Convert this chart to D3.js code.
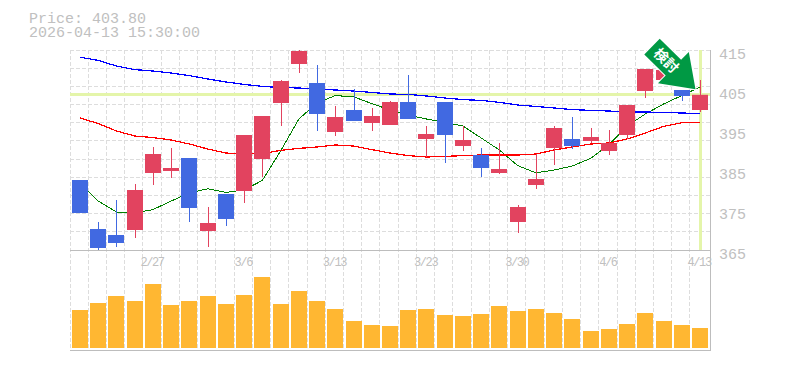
<!DOCTYPE html>
<html>
<head>
<meta charset="utf-8">
<script src="https://cdn.jsdelivr.net/npm/d3@7"></script>
<style>
html, body { margin: 0; padding: 0; background: #fff; }
text { font-family: "Liberation Mono", monospace; fill: #c0c0c0; }
.axis path, .axis line { display: none; }
</style>
</head>
<body>
<div id="chart"></div>
<script>
// price label
var last_price = 403.80;
var last_time = "2026-04-13 15:30:00";
var arrow_label = "検討";

var dates = ["2/20","2/24","2/25","2/26","2/27","3/2","3/3","3/4","3/5","3/6","3/9","3/10","3/11","3/12","3/13",
             "3/16","3/17","3/18","3/19","3/23","3/24","3/25","3/26","3/27","3/30","3/31","4/1","4/2","4/3","4/6",
             "4/7","4/8","4/9","4/10","4/13"];
var date_ticks = ["2/27","3/6","3/13","3/23","3/30","4/6","4/13"];
var price_ticks = [365,375,385,395,405,415];

var opens = [382.5,370.25,368.75,370,384.25,384.75,388,369.75,379,379.75,387.75,401.75,411.5,406.75,394.5,
             400,396.75,396.25,402,392.75,402,391,388.75,384.25,372,381.25,390.5,392.75,392.25,389.75,
             393.75,404.75,407.5,405,400];
var highs = [382.5,372,377.5,381.5,390.75,390.5,388,375.75,379,393.75,398.5,407.5,415,411.25,401,
             405.25,400.5,402.25,408.75,396,402,396,390.5,391.75,376.25,389,396,398.25,395.5,395,
             401.25,410.25,410,405,407.5];
var lows = [374.25,365,365.75,368,381.25,383,372,365.75,371,376.75,383.25,396,409.25,394.75,393.5,
            397.25,394.75,396.25,397.75,388.25,386.75,389.75,383.25,384,369.25,380.25,386.25,390.25,391.75,388.75,
            392.75,403,407.5,402.25,399.5];
var closes = [374.25,365.5,366.75,380,389,385.5,375.5,371.75,372.75,393.75,398.5,407.25,414.75,399,398.25,
              397.25,398.5,402,397.75,394,393.75,392.5,385.5,385.25,375.75,382.75,395.5,391,393.25,391.75,
              401.25,410.25,410,403.5,403.8];

var ma_short = [381.75,377.25,374.5,374.25,375.1,377.25,379.25,380.3,379.4,380,382.4,389.75,397.75,401.75,403.6,
                403.3,401.6,400,398.75,397.75,396.9,396,393,390,386.1,384.3,385,386,387.9,391.25,
                396,399,401.5,403.6,405.75];
var ma_mid = [398,396.6,394.75,393.5,393.1,392.5,391.5,390.25,389.25,389,389.1,389.9,390.4,390.75,391.25,
              391,390.1,389.25,388.6,388.25,388.4,388.6,388.75,388.75,388.75,389,390,390.75,391.5,391.75,
              392.75,394.25,395.9,396.8,396.9];
var ma_long = [413.2,412.4,411,410.1,409.75,409.25,408.6,407.75,407,406.4,405.9,405.6,405.5,405.25,405,
               404.75,404.4,404,403.9,403.5,403,402.6,402.4,401.9,401.25,400.9,400.5,400.1,399.9,399.75,
               399.5,399.5,399.4,399.25,399.1];

var volumes = [38,45,52,47,64,43,47,52,44,53,71,44,57,47,39,27,23,22,
               38,39,33,32,34,42,37,39,35,29,17,19,24,35,27,23,20];

var colors = new Map([
    ["up", "#e2435f"],
    ["down", "#4169e1"],
    ["short", "#008000"],
    ["mid", "#ff0000"],
    ["long", "#0000ff"],
    ["volume", "#ffb732"],
    ["band", "#e4f5aa"],
    ["grid", "#dddddd"],
    ["frame", "#bdbdbd"],
    ["arrow", "#009944"]
]);

var total_w = 785;
var total_h = 370;
var candle_w = 16;
var svg, xscale, yscale, vscale;

function x_left(i) {
    return Math.round(xscale(dates[i]) + 2);
}

function x_mid(i) {
    return xscale(dates[i]) + 10;
}

function gen_grid() {
    var grid = svg.append("g")
                  .attr("stroke", colors.get("grid"))
                  .attr("stroke-dasharray", "4,2");

    // one vertical per candle
    grid.selectAll(".vgrid")
        .data(dates)
        .enter()
        .append("line")
        .attr("class", "vgrid")
        .attr("x1", function(d) { return Math.floor(xscale(d)) + 0.5; })
        .attr("x2", function(d) { return Math.floor(xscale(d)) + 0.5; })
        .attr("y1", 50)
        .attr("y2", 350);

    // price panel is split in 11 rows, not on the labels
    grid.selectAll(".hgrid")
        .data(d3.range(11))
        .enter()
        .append("line")
        .attr("class", "hgrid")
        .attr("x1", 70)
        .attr("x2", 710)
        .attr("y1", function(d) { return Math.floor(50 + d * 200 / 11) + 0.5; })
        .attr("y2", function(d) { return Math.floor(50 + d * 200 / 11) + 0.5; });

    var frame = svg.append("g").attr("stroke", colors.get("frame"));
    frame.append("line").attr("x1", 70).attr("x2", 711).attr("y1", 250.5).attr("y2", 250.5);
    frame.append("line").attr("x1", 70).attr("x2", 711).attr("y1", 350.5).attr("y2", 350.5);
    frame.append("line").attr("x1", 710.5).attr("x2", 710.5).attr("y1", 50).attr("y2", 351);
}

function gen_bands() {
    var y_last = Math.floor(yscale(last_price)) + 0.5;
    var x_last = x_mid(dates.length - 1) + 0.5;
    svg.append("line")
       .attr("x1", 70).attr("x2", 710)
       .attr("y1", y_last).attr("y2", y_last)
       .attr("stroke", colors.get("band"))
       .attr("stroke-width", 3);
    svg.append("line")
       .attr("x1", x_last).attr("x2", x_last)
       .attr("y1", 50).attr("y2", 250)
       .attr("stroke", colors.get("band"))
       .attr("stroke-width", 3);
}

function gen_ma(values, color, width) {
    var line = d3.line()
                 .x(function(d, i) { return x_mid(i); })
                 .y(function(d) { return yscale(d); });
    svg.append("path")
       .attr("d", line(values))
       .attr("fill", "none")
       .attr("stroke", color)
       .attr("stroke-width", width)
       .attr("shape-rendering", "crispEdges");
}

function gen_candles() {
    var candles = svg.selectAll(".candle")
                     .data(dates)
                     .enter()
                     .append("g")
                     .attr("class", "candle");

    function candle_color(d, i) {
        return closes[i] >= opens[i] ? colors.get("up") : colors.get("down");
    }

    // Wicks
    candles.append("line")
           .attr("x1", function(d, i) { return x_left(i) + candle_w / 2 + 0.5; })
           .attr("x2", function(d, i) { return x_left(i) + candle_w / 2 + 0.5; })
           .attr("y1", function(d, i) { return yscale(highs[i]); })
           .attr("y2", function(d, i) { return yscale(lows[i]); })
           .attr("stroke", candle_color);

    // Bodies
    candles.append("rect")
           .attr("x", function(d, i) { return x_left(i); })
           .attr("width", candle_w)
           .attr("y", function(d, i) { return yscale(Math.max(opens[i], closes[i])); })
           .attr("height", function(d, i) { return Math.abs(yscale(opens[i]) - yscale(closes[i])); })
           .attr("fill", candle_color);
}

function gen_volume() {
    svg.selectAll(".volume")
       .data(volumes)
       .enter()
       .append("rect")
       .attr("class", "volume")
       .attr("x", function(d, i) { return x_left(i); })
       .attr("width", candle_w)
       .attr("y", function(d) { return vscale(d); })
       .attr("height", function(d) { return vscale(0) - vscale(d); })
       .attr("fill", colors.get("volume"));
}

function gen_axes() {
    var xaxis = d3.axisBottom(xscale)
                  .tickValues(date_ticks)
                  .tickSize(0)
                  .tickPadding(0);
    var gx = svg.append("g")
                .attr("class", "axis")
                .attr("transform", "translate(0,266)")
                .call(xaxis);
    gx.selectAll("text")
      .attr("dy", 0)
      .style("font-size", "12px")
      .style("letter-spacing", "-1.4px")
      .style("font-family", "Liberation Mono")
      .style("fill", "#c0c0c0");

    var yaxis = d3.axisRight(yscale)
                  .tickValues(price_ticks)
                  .tickSize(0)
                  .tickPadding(0);
    var gy = svg.append("g")
                .attr("class", "axis")
                .attr("transform", "translate(719,0)")
                .call(yaxis);
    gy.selectAll("text")
      .attr("dy", 8)
      .style("font-size", "15px")
      .style("font-family", "Liberation Mono")
      .style("fill", "#c0c0c0");

    svg.append("text").attr("x", 29).attr("y", 23).style("font-size", "15px")
       .text("Price: " + last_price.toFixed(2));
    svg.append("text").attr("x", 29).attr("y", 37).style("font-size", "15px")
       .text(last_time);
}

function gen_arrow() {
    var n = dates.length - 1;
    var arrow = svg.append("g")
                   .attr("transform", "translate(" + (x_mid(n) - 4.5) + "," + (yscale(last_price) - 5.5) + ") rotate(44.5)");
    arrow.append("path")
         .attr("d", "M0,0L-31,-22L-31,-11L-61,-11L-61,11L-31,11L-31,22Z")
         .attr("fill", colors.get("arrow"))
         .attr("stroke", "#fff")
         .attr("stroke-width", 2)
         .attr("paint-order", "stroke");
    arrow.append("text")
         .attr("x", -41)
         .attr("y", 5)
         .attr("text-anchor", "middle")
         .style("font-family", "Noto Sans CJK JP")
         .style("font-weight", "bold")
         .style("font-size", "14px")
         .style("fill", "#fff")
         .text(arrow_label);
}

function gen_chart() {
    svg = d3.select("#chart").append("svg")
            .attr("width", total_w)
            .attr("height", total_h)
            .style("display", "block");

    xscale = d3.scaleBand().domain(dates).range([70, 708.235]);
    yscale = d3.scaleLinear().domain([365, 415]).range([250, 50]);
    vscale = d3.scaleLinear().domain([0, 100]).range([348, 248]);

    gen_grid();
    gen_bands();
    gen_volume();
    gen_ma(ma_short, colors.get("short"), 1);
    gen_ma(ma_mid, colors.get("mid"), 1.25);
    gen_ma(ma_long, colors.get("long"), 1.25);
    gen_candles();
    gen_axes();
    gen_arrow();
}

gen_chart();
</script>
</body>
</html>
